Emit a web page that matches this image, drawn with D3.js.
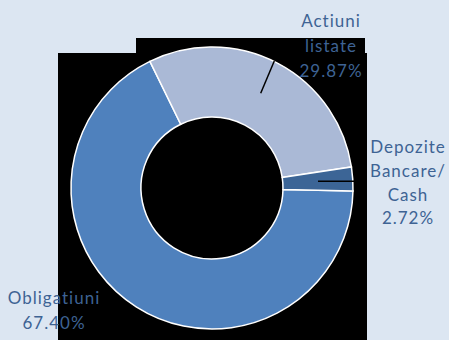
<!DOCTYPE html>
<html>
<head>
<meta charset="utf-8">
<script src="https://cdn.jsdelivr.net/npm/d3@7"></script>
<style>
  html, body { margin: 0; padding: 0; background: #dce6f2; }
  svg { display: block; }
  .lbl { font-family: Lato, "Open Sans", sans-serif; font-size: 17px; fill: #3e6394; letter-spacing: 1px; }
</style>
</head>
<body>
<svg id="chart" width="449" height="340"></svg>
<script>
// Portfolio structure
const categories = ["Obligatiuni", "Actiuni listate", "Depozite Bancare/Cash"];
const shares = [67.40, 29.87, 2.72];
const colors = ["#4f81bd", "#aab9d6", "#3c6596"];

const W = 449, H = 340;
const cx = 212, cy = 188, rOuter = 141, rInner = 71;

const svg = d3.select("#chart");
svg.append("rect").attr("width", W).attr("height", H).attr("fill", "#dce6f2");

// dark plot backdrop
svg.append("rect").attr("x", 58).attr("y", 53).attr("width", 309).attr("height", H - 53).attr("fill", "#000");
svg.append("rect").attr("x", 136).attr("y", 38).attr("width", 229).attr("height", 20).attr("fill", "#000");

const start = 91.2 * Math.PI / 180;
const pie = d3.pie().sort(null).value(d => d).startAngle(start).endAngle(start + 2 * Math.PI);
const arcs = pie(shares);
const arc = d3.arc().innerRadius(rInner).outerRadius(rOuter);

const g = svg.append("g").attr("transform", `translate(${cx},${cy})`);
g.selectAll("path").data(arcs).join("path")
  .attr("d", arc)
  .attr("fill", (d, i) => colors[i])
  .attr("stroke", "#fff")
  .attr("stroke-width", 1.5);

// leader lines
const leaders = [
  null,
  [[274.3, 61], [260.7, 93.3]],
  [[354, 181.3], [318, 181.3]]
];
leaders.forEach(l => {
  if (!l) return;
  svg.append("line").attr("x1", l[0][0]).attr("y1", l[0][1]).attr("x2", l[1][0]).attr("y2", l[1][1])
    .attr("stroke", "#000").attr("stroke-width", 1.5);
});

// data labels
const labelLines = [
  ["Obligatiuni"],
  ["Actiuni", "listate"],
  ["Depozite", "Bancare/", "Cash"]
];
const labelPos = [
  { x: 54, y: 304, step: 25 },
  { x: 331, y: 27.3, step: 24.7 },
  { x: 408, y: 153.3, step: 23.7 }
];
labelLines.forEach((lines, i) => {
  const all = lines.concat([shares[i].toFixed(2) + "%"]);
  const t = svg.append("text").attr("class", "lbl").attr("text-anchor", "middle");
  all.forEach((s, k) => {
    t.append("tspan").attr("x", labelPos[i].x).attr("y", labelPos[i].y + k * labelPos[i].step).text(s);
  });
});
</script>
</body>
</html>
